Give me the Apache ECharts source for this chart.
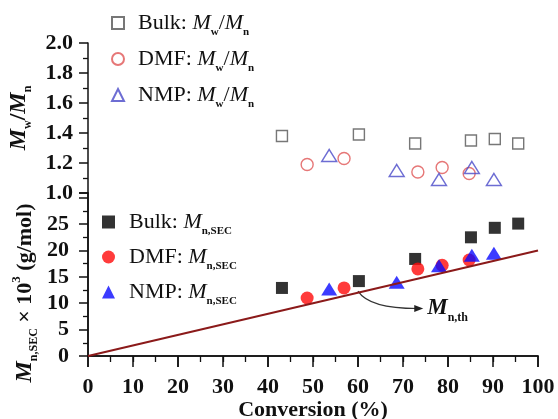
<!DOCTYPE html>
<html>
<head>
<meta charset="utf-8">
<script src="https://cdn.jsdelivr.net/npm/echarts@6/dist/echarts.min.js"></script>
<style>
html, body { margin: 0; padding: 0; background: #fff; }
#main { width: 558px; height: 419px; }
</style>
</head>
<body>
<div id="main"></div>
<script>
// conversion (%) per system
var bulkConv = [43.1, 60.2, 72.7, 85.1, 90.4, 95.6];
var dmfConv = [48.7, 56.9, 73.3, 78.7, 84.7];
var nmpConv = [53.6, 68.6, 78.0, 85.3, 90.2];
// Mw/Mn (top panel)
var bulkPdi = [1.38, 1.39, 1.33, 1.35, 1.36, 1.33];
var dmfPdi = [1.19, 1.23, 1.14, 1.17, 1.13];
var nmpPdi = [1.25, 1.15, 1.09, 1.17, 1.09];
// Mn,SEC x 10^3 (bottom panel)
var bulkMn = [12.9, 14.2, 18.4, 22.5, 24.3, 25.1];
var dmfMn = [11.0, 12.9, 16.5, 17.2, 18.2];
var nmpMn = [12.7, 14.0, 17.1, 19.1, 19.5];
// theoretical Mn line
var thConv = [0, 100];
var thMn = [0, 20];
// curved arrow pointing at the Mn,th label (conversion, Mn)
var arrowFrom = [60, 12.3];
var arrowCtrl = [62.5, 9.0];
var arrowTo = [74.5, 9.0];

var serif = '"Liberation Serif", "Times New Roman", serif';
var ink = '#111';

function pairs(xs, ys) {
    return xs.map(function (x, i) { return [x, ys[i]]; });
}

var chart = echarts.init(document.getElementById('main'));

var tickFont = { fontFamily: serif, fontSize: 22, fontWeight: 'bold', color: ink };

var legendRichTop = {
    t: { fontFamily: serif, fontSize: 22, color: ink, lineHeight: 30 },
    m: { fontFamily: serif, fontSize: 22, fontStyle: 'italic', color: ink, lineHeight: 30 },
    s: { fontFamily: serif, fontSize: 11, fontWeight: 'bold', color: ink, lineHeight: 10, verticalAlign: 'bottom' }
};
var legendRichBot = {
    t: { fontFamily: serif, fontSize: 22, color: ink, lineHeight: 30 },
    m: { fontFamily: serif, fontSize: 22, fontStyle: 'italic', color: ink, lineHeight: 30 },
    s: { fontFamily: serif, fontSize: 11, fontWeight: 'bold', color: ink, lineHeight: 6, verticalAlign: 'bottom' }
};

function legendText(name) {
    var parts = name.split('|');
    if (parts[1] == 'pdi') return '{t|' + parts[0] + ': }{m|M}{s|w}{t|/}{m|M}{s|n}';
    return '{t|' + parts[0] + ': }{m|M}{s|n,SEC}';
}

var option = {
    animation: false,
    backgroundColor: '#fff',
    grid: [
        { left: 88, top: 43, width: 450, height: 150, outerBoundsMode: 'none', containLabel: false },
        { left: 88, top: 193, width: 450, height: 163, outerBoundsMode: 'none', containLabel: false }
    ],
    xAxis: [
        { gridIndex: 0, type: 'value', min: 0, max: 100, show: false },
        {
            gridIndex: 1, type: 'value', min: 0, max: 100, interval: 10, position: 'bottom',
            axisLine: { lineStyle: { color: ink, width: 1.5 } },
            axisTick: { inside: false, length: 11, lineStyle: { color: ink, width: 1.5 } },
            minorTick: { show: true, splitNumber: 2, length: 6, lineStyle: { color: ink, width: 1.3 } },
            splitLine: { show: false },
            axisLabel: Object.assign({ margin: 20 }, tickFont),
            name: 'Conversion (%)', nameLocation: 'middle', nameGap: 42,
            nameTextStyle: { fontFamily: serif, fontSize: 22, fontWeight: 'bold', color: ink }
        },
        {
            gridIndex: 1, type: 'value', min: 0, max: 100, interval: 20, position: 'top',
            axisLine: { lineStyle: { color: ink, width: 1.5 } },
            axisTick: { inside: true, length: 11, lineStyle: { color: ink, width: 1.5 } },
            minorTick: { show: true, splitNumber: 2, length: 6, lineStyle: { color: ink, width: 1.3 } },
            splitLine: { show: false },
            axisLabel: { show: false }
        }
    ],
    yAxis: [
        {
            gridIndex: 0, type: 'value', min: 1, max: 2, interval: 0.2,
            axisLine: { show: true, lineStyle: { color: ink, width: 1.5 } },
            axisTick: { inside: false, length: 9, lineStyle: { color: ink, width: 1.5 } },
            minorTick: { show: true, splitNumber: 2, length: 5, lineStyle: { color: ink, width: 1.3 } },
            splitLine: { show: false },
            axisLabel: Object.assign({ margin: 15, formatter: function (v) { return v.toFixed(1); } }, tickFont)
        },
        {
            gridIndex: 1, type: 'value', min: 0, max: 30.9, interval: 5,
            axisLine: { show: true, lineStyle: { color: ink, width: 1.5 } },
            axisTick: { inside: false, length: 9, lineStyle: { color: ink, width: 1.5 } },
            minorTick: { show: true, splitNumber: 2, length: 5, lineStyle: { color: ink, width: 1.3 } },
            splitLine: { show: false },
            axisLabel: Object.assign({ margin: 19, formatter: function (v) { return v > 26 ? '' : String(v); } }, tickFont)
        },
        {
            gridIndex: 1, type: 'value', min: 0, max: 30.9, position: 'right',
            axisLine: { show: true, lineStyle: { color: ink, width: 1.5 } },
            axisTick: { show: false }, axisLabel: { show: false }, splitLine: { show: false }
        }
    ],
    legend: [
        {
            orient: 'vertical', left: 106, top: 7, itemWidth: 12, itemHeight: 12, itemGap: 10,
            selectedMode: false, formatter: legendText,
            textStyle: { rich: legendRichTop, padding: [0, 0, 0, 9] },
            data: ['Bulk|pdi', 'DMF|pdi', 'NMP|pdi']
        },
        {
            orient: 'vertical', left: 97, top: 206, itemWidth: 13, itemHeight: 13, itemGap: 9,
            selectedMode: false, formatter: legendText,
            textStyle: { rich: legendRichBot, padding: [0, 0, 0, 9] },
            data: ['Bulk|mn', 'DMF|mn', 'NMP|mn']
        }
    ],
    graphic: [
        {
            type: 'text', x: 19, y: 118, rotation: Math.PI / 2,
            style: {
                text: '{m|M}{s|w}{t|/}{m|M}{s|n}', align: 'center', verticalAlign: 'middle',
                rich: {
                    m: { fontFamily: serif, fontSize: 24, fontStyle: 'italic', fontWeight: 'bold', fill: ink, lineHeight: 30 },
                    t: { fontFamily: serif, fontSize: 24, fontWeight: 'bold', fill: ink, lineHeight: 30 },
                    s: { fontFamily: serif, fontSize: 12, fontWeight: 'bold', fill: ink, lineHeight: 8, verticalAlign: 'bottom' }
                }
            }
        },
        {
            type: 'text', x: 25, y: 293, rotation: Math.PI / 2,
            style: {
                text: '{m|M}{s|n,SEC}{t| × 10}{p|3}{t| (g/mol)}', align: 'center', verticalAlign: 'middle',
                rich: {
                    m: { fontFamily: serif, fontSize: 24, fontStyle: 'italic', fontWeight: 'bold', fill: ink, lineHeight: 30 },
                    t: { fontFamily: serif, fontSize: 22, fontWeight: 'bold', fill: ink, lineHeight: 30 },
                    s: { fontFamily: serif, fontSize: 12, fontWeight: 'bold', fill: ink, lineHeight: 6, verticalAlign: 'bottom' },
                    p: { fontFamily: serif, fontSize: 13, fontWeight: 'bold', fill: ink, lineHeight: 8, verticalAlign: 'top' }
                }
            }
        }
    ],
    series: [
        {
            name: 'Bulk|pdi', type: 'scatter', xAxisIndex: 0, yAxisIndex: 0,
            symbol: 'rect', symbolSize: 11, data: pairs(bulkConv, bulkPdi),
            itemStyle: { color: 'rgba(255,255,255,0)', borderColor: '#555', borderWidth: 1.4 }
        },
        {
            name: 'DMF|pdi', type: 'scatter', xAxisIndex: 0, yAxisIndex: 0,
            symbol: 'circle', symbolSize: 12, data: pairs(dmfConv, dmfPdi),
            itemStyle: { color: 'rgba(255,255,255,0)', borderColor: '#e05555', borderWidth: 1.4 }
        },
        {
            name: 'NMP|pdi', type: 'scatter', xAxisIndex: 0, yAxisIndex: 0,
            symbol: 'triangle', symbolSize: [15, 12], data: pairs(nmpConv, nmpPdi),
            itemStyle: { color: 'rgba(255,255,255,0)', borderColor: '#4848c8', borderWidth: 1.4 }
        },
        {
            name: 'theory', type: 'line', xAxisIndex: 1, yAxisIndex: 1,
            data: pairs(thConv, thMn), symbol: 'none',
            lineStyle: { color: '#8b1a1a', width: 2 }
        },
        {
            name: 'Bulk|mn', type: 'scatter', xAxisIndex: 1, yAxisIndex: 1,
            symbol: 'rect', symbolSize: 12, data: pairs(bulkConv, bulkMn),
            itemStyle: { color: '#000' }
        },
        {
            name: 'DMF|mn', type: 'scatter', xAxisIndex: 1, yAxisIndex: 1,
            symbol: 'circle', symbolSize: 13, data: pairs(dmfConv, dmfMn),
            itemStyle: { color: '#ff0a0a' }
        },
        {
            name: 'NMP|mn', type: 'scatter', xAxisIndex: 1, yAxisIndex: 1,
            symbol: 'triangle', symbolSize: [16, 13], data: pairs(nmpConv, nmpMn),
            itemStyle: { color: '#0a0aff' }
        }
    ]
};

chart.setOption(option);

// curved arrow + Mn,th label, positioned through the bottom panel's axes
var grid1 = { xAxisIndex: 1, yAxisIndex: 1 };
var p0 = chart.convertToPixel(grid1, arrowFrom);
var pc = chart.convertToPixel(grid1, arrowCtrl);
var p1 = chart.convertToPixel(grid1, arrowTo);
var arrowParts = option.graphic.concat([
    {
        type: 'bezierCurve', silent: true,
        shape: { x1: p0[0], y1: p0[1], cpx1: pc[0], cpy1: pc[1], x2: p1[0] - 6, y2: p1[1] },
        style: { stroke: '#333', lineWidth: 1.2, fill: null }
    },
    {
        type: 'polygon', silent: true,
        shape: { points: [[p1[0], p1[1]], [p1[0] - 9, p1[1] - 3.5], [p1[0] - 9, p1[1] + 3.5]] },
        style: { fill: '#222' }
    },
    {
        type: 'text', silent: true, x: p1[0] + 4, y: p1[1],
        style: {
            text: '{m|M}{s|n,th}', align: 'left', verticalAlign: 'middle',
            rich: {
                m: { fontFamily: serif, fontSize: 23, fontStyle: 'italic', fontWeight: 'bold', fill: ink, lineHeight: 30 },
                s: { fontFamily: serif, fontSize: 12, fontWeight: 'bold', fill: ink, lineHeight: 6, verticalAlign: 'bottom' }
            }
        }
    }
]);
chart.setOption({ graphic: arrowParts });
</script>
</body>
</html>
